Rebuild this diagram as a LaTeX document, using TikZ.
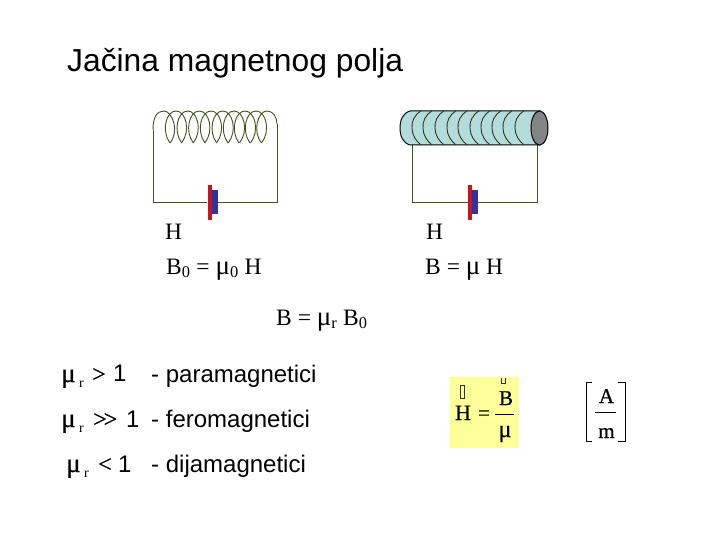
\documentclass[tikz,border=0pt]{standalone}
\usepackage{fontspec}
\setmainfont{Liberation Serif}
\newfontfamily\arialf{Liberation Sans}
\newfontfamily\boldish[FakeBold=0.6]{Liberation Serif}
\definecolor{wire}{HTML}{44521F}
\definecolor{batred}{HTML}{C8141E}
\definecolor{batblue}{HTML}{32329A}
\definecolor{corefill}{HTML}{B4DCDC}
\definecolor{endgray}{HTML}{858585}
\definecolor{boxyellow}{HTML}{FFFF99}
\newcommand{\sersz}[1]{\fontsize{#1}{#1}\selectfont}
\newcommand{\bigmu}{{\sersz{27}μ}}
\tikzset{
  x=1pt,y=-1pt,
  wireline/.style={draw=wire,line width=0.9pt},
  coilline/.style={draw=wire,line width=0.9pt},
  turn/.style={draw=wire!70!black,line width=0.9pt},
  sans/.style={inner sep=0,anchor=base west,font=\arialf\sersz{24}},
  ser/.style={inner sep=0,anchor=base west,font=\sersz{23.5}},
  sym/.style={inner sep=0,anchor=base west,font=\boldish\sersz{24}},
  sub/.style={inner sep=0,anchor=base west,font=\sersz{14}},
  frm/.style={inner sep=0,anchor=base,font=\boldish\sersz{21}},
  mubig/.style={inner sep=0,anchor=base west,font=\boldish\sersz{27}},
}
\begin{document}
\begin{tikzpicture}
\useasboundingbox (0,0) rectangle (720,540);
\fill[white] (0,0) rectangle (720,540);
\node[inner sep=0,anchor=base west,font=\arialf\sersz{31.8}] (title) at (67,72) {Jačina magnetnog polja};
% left circuit
\draw[wireline] (153,130) -- (153,202) -- (207,202);
\draw[wireline] (217,202) -- (277,202) -- (277,124);
\foreach \b in {170,181.7,193.3,205,216.7,228,239,250}{
  \draw[coilline] (\b,143) .. controls (\b-9,131) and (\b-4,111) .. (\b+6,111)
     .. controls (\b+16,111) and (\b+21,131) .. (\b+11.5,143);
}
\draw[coilline] (153,130) .. controls (153,117) and (157,111) .. (164,111)
     .. controls (172,111) and (180,131) .. (170,143);
\draw[coilline] (261.5,143) .. controls (252,131) and (258,111) .. (267,111)
     .. controls (273,111) and (277,117) .. (277,124);
% left battery
\fill[batred] (208,185) rectangle (211.5,220);
\fill[batblue] (212,190) rectangle (218,214);
% right circuit
\draw[wireline] (412,145) -- (412,202) -- (468,202);
\draw[wireline] (478,202) -- (537,202) -- (537,145);
\draw[black,line width=1pt,fill=corefill] (540,111) -- (410,111)
   .. controls (403,113) and (400,120) .. (400,128)
   .. controls (400,136) and (403,143) .. (410,145) -- (540,145) -- cycle;
\foreach \a in {412,423,435,447,458,470,481,492,503,515}{
  \draw[turn] (\a+9,111) .. controls (\a+2,115) and (\a-0.5,122) .. (\a,128)
     .. controls (\a,135) and (\a+4,141) .. (\a+9,145);
}
\draw[black,line width=1pt,fill=endgray] (539.5,128) ellipse [x radius=8.5,y radius=17];
% right battery
\fill[batred] (468,185) rectangle (471.5,220);
\fill[batblue] (472,190) rectangle (478,214);
% labels
\node[ser] (h1) at (165,240) {H};
\node[ser] (b1) at (166,274) {B\textsubscript{0} = \bigmu\textsubscript{0} H};
\node[ser] (h2) at (426,240) {H};
\node[ser] (b2) at (425,274) {B = \bigmu{} H};
\node[ser] (br) at (276,325) {B = \bigmu\textsubscript{r} B\textsubscript{0}};
% rows
\node[mubig] (m1) at (61,382) {μ};
\node[sub] (r1) at (79,387) {r};
\node[sym] (g1) at (92,382) {>};
\node[sans] (o1) at (113,381) {1};
\node[sans] (t1) at (151,382) {- paramagnetici};
\node[mubig] (m2) at (61,427) {μ};
\node[sub] (r2) at (79,432) {r};
\node[sym] (g2) at (93,427) {>\kern-3pt{}>};
\node[sans] (o2) at (126,427) {1};
\node[sans] (t2) at (151,427) {- feromagnetici};
\node[mubig] (m3) at (66,472) {μ};
\node[sub] (r3) at (84,477) {r};
\node[sym] (g3) at (98,472) {<};
\node[sans] (o3) at (118,472) {1};
\node[sans] (t3) at (151,472) {- dijamagnetici};
% formula
\fill[boxyellow] (450,377) rectangle (519,448);
\node[frm,font=\boldish\sersz{22}] (fh) at (463,420) {H};
\node[frm] (feq) at (484,420) {=};
\node[frm] (fb) at (506,405) {B};
\node[frm,font=\boldish\sersz{24}] (fm) at (505,437) {μ};
\draw[black,line width=0.9pt] (495,414) -- (514,414);
\draw[black!80,line width=0.7pt] (460.5,385) rectangle (464.5,398);
\draw[black!80,line width=0.7pt] (501.5,378) -- (501.5,383) -- (505.5,383) -- (505.5,378);
% unit
\node[frm] (ua) at (606.5,403) {A};
\node[frm] (um) at (606.5,438) {m};
\draw[black,line width=0.6pt] (595,412) -- (616,412);
\draw[black,line width=0.8pt] (592,382) -- (586,382) -- (586,441) -- (592,441);
\draw[black,line width=0.8pt] (618,382) -- (625,382) -- (625,441) -- (618,441);
\end{tikzpicture}
\end{document}
